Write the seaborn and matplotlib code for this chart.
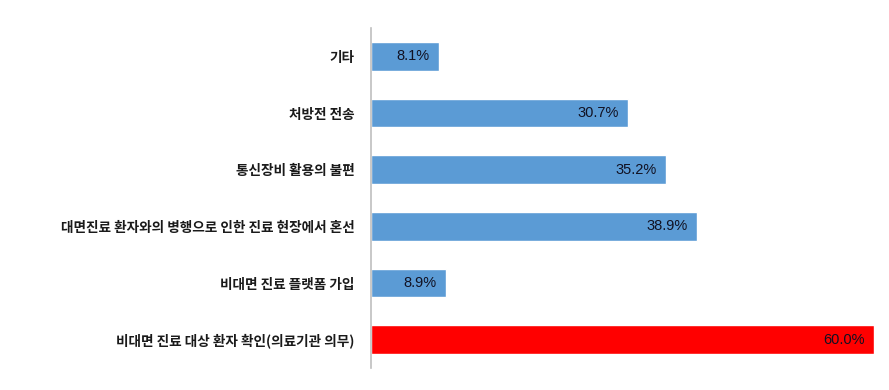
import matplotlib
matplotlib.use("Agg")
import matplotlib.pyplot as plt
import seaborn as sns
import pandas as pd

categories = [
    "기타",
    "처방전 전송",
    "통신장비 활용의 불편",
    "대면진료 환자와의 병행으로 인한 진료 현장에서 혼선",
    "비대면 진료 플랫폼 가입",
    "비대면 진료 대상 환자 확인(의료기관 의무)",
]
values = [8.1, 30.7, 35.2, 38.9, 8.9, 60.0]
bar_colors = ["#5B9BD5", "#5B9BD5", "#5B9BD5", "#5B9BD5", "#5B9BD5", "#FF0000"]

df = pd.DataFrame({"category": categories, "value": values})

sns.set_style("white")
plt.rcParams['font.family'] = ['Noto Sans CJK KR', 'DejaVu Sans']

fig = plt.figure(figsize=(8.89, 3.9), dpi=100)
ax = fig.add_axes([0.4173, 0.0564, 0.5657, 0.8718])

sns.barplot(data=df, x="value", y="category", hue="category", palette=bar_colors,
            width=0.51, legend=False, ax=ax, saturation=1)

ax.set_xlim(0, 60)
ax.set_ylim(5.5, -0.5)
ax.set_xlabel("")
ax.set_ylabel("")
ax.set_xticks([])
for side in ["top", "right", "bottom"]:
    ax.spines[side].set_visible(False)
ax.spines["left"].set_color("#BFBFBF")
ax.spines["left"].set_linewidth(1.2)
ax.tick_params(axis="y", length=0, pad=12)
for lbl in ax.get_yticklabels():
    lbl.set_fontsize(9.8)
    lbl.set_fontweight("bold")
    lbl.set_color("#1a1a1a")

# value labels inside bars, right-aligned
for i, v in enumerate(values):
    ax.text(v - 1.1, i, f"{v:.1f}%", ha="right", va="center",
            fontsize=10.5, family="Liberation Sans", color="#111122")

fig.savefig("out.png", dpi=100)
